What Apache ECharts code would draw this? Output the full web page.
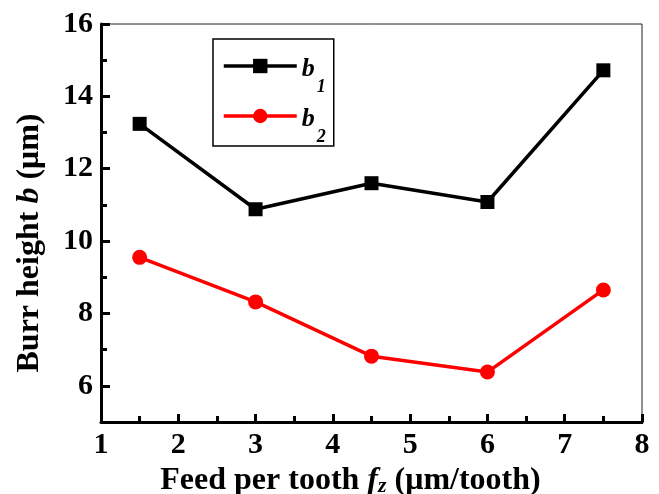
<!DOCTYPE html>
<html>
<head>
<meta charset="utf-8">
<script src="https://cdn.jsdelivr.net/npm/echarts@6/dist/echarts.min.js"></script>
<style>html,body{margin:0;padding:0;background:#fff;}#c{width:659px;height:494px;}</style>
</head>
<body>
<div id="c"></div>
<script>
const xValues = [1.5, 3, 4.5, 6, 7.5];
const b1Values = [13.24, 10.88, 11.6, 11.08, 14.72];
const b2Values = [9.55, 8.32, 6.82, 6.38, 8.65];
const seriesNames = ['b1', 'b2'];

const FONT = '"Liberation Serif", "Times New Roman", serif';
const chart = echarts.init(document.getElementById('c'), null, {renderer: 'canvas'});

function pairs(xs, ys) { return xs.map((x, i) => [x, ys[i]]); }

const tickStyle = {color: '#000', width: 3};
const labelBase = {color: '#000', fontFamily: FONT, fontWeight: 'bold', fontSize: 30};

const option = {
  backgroundColor: '#fff',
  animation: false,
  grid: {left: 101, right: 17, top: 24, bottom: 72, outerBoundsMode: 'none', containLabel: false,
         show: true, borderColor: '#222', borderWidth: 1, backgroundColor: 'transparent'},
  legend: {
    orient: 'vertical', left: 213, top: 39,
    padding: [15, 8, 0, 9], itemGap: 8,
    itemWidth: 73, itemHeight: 18,
    borderColor: '#000', borderWidth: 1.5,
    backgroundColor: '#fff',
    lineStyle: {width: 3.5},
    data: seriesNames,
    formatter: function (name) { return '{i|b}{s|' + name.slice(1) + '}'; },
    textStyle: {
      color: '#000', fontFamily: FONT, fontSize: 24,
      rich: {
        i: {fontFamily: FONT, fontStyle: 'italic', fontWeight: 'bold', fontSize: 26, lineHeight: 24, padding: [2, 0, 0, 0], verticalAlign: 'top', color: '#000'},
        s: {fontFamily: FONT, fontStyle: 'italic', fontWeight: 'bold', fontSize: 18, lineHeight: 16, padding: [24, 0, 0, 2], verticalAlign: 'top', color: '#000'}
      }
    }
  },
  xAxis: {
    type: 'value', min: 1, max: 8, interval: 1,
    name: '{n|Feed per tooth }{i|f}{s|z}{n| (μm/tooth)}',
    nameLocation: 'middle', nameGap: 31,
    nameTextStyle: {
      padding: [0, 42, 0, 0],
      rich: {
        n: {fontFamily: FONT, fontWeight: 'bold', fontSize: 32, lineHeight: 32, color: '#000'},
        i: {fontFamily: FONT, fontWeight: 'bold', fontStyle: 'italic', fontSize: 32, lineHeight: 32, color: '#000'},
        s: {fontFamily: FONT, fontWeight: 'bold', fontStyle: 'italic', fontSize: 22, lineHeight: 10, verticalAlign: 'bottom', color: '#000'}
      }
    },
    axisLine: {show: true, onZero: false, lineStyle: {color: '#000', width: 3}},
    axisTick: {show: true, inside: true, length: 8, lineStyle: tickStyle},
    minorTick: {show: true, splitNumber: 2, length: 6, lineStyle: tickStyle},
    axisLabel: Object.assign({margin: 8}, labelBase),
    splitLine: {show: false}
  },
  yAxis: [
    {
      type: 'value', min: 5, max: 16, interval: 1,
      position: 'left',
      name: '{n|Burr height }{i|b}{n| (μm)}',
      nameLocation: 'middle', nameGap: 55,
      nameTextStyle: {
        padding: [0, 40, 0, 0],
        rich: {
          n: {fontFamily: FONT, fontWeight: 'bold', fontSize: 32, lineHeight: 32, color: '#000'},
          i: {fontFamily: FONT, fontWeight: 'bold', fontStyle: 'italic', fontSize: 32, lineHeight: 32, color: '#000'}
        }
      },
      axisLine: {show: true, onZero: false, lineStyle: {color: '#000', width: 3}},
      axisTick: {show: true, inside: true, length: 6, lineStyle: tickStyle},
      axisLabel: Object.assign({margin: 8, formatter: function (v) { return v % 2 === 0 ? String(v) : ''; }}, labelBase),
      splitLine: {show: false}
    },
    {
      type: 'value', min: 5, max: 16,
      position: 'left',
      axisLine: {show: false},
      axisTick: {show: true, inside: true, length: 9, lineStyle: tickStyle},
      axisLabel: {show: false},
      splitLine: {show: false}
    }
  ],
  series: [
    {
      name: seriesNames[0], type: 'line', yAxisIndex: 0,
      data: pairs(xValues, b1Values),
      symbol: 'rect', symbolSize: 14,
      lineStyle: {color: '#000', width: 3.5},
      itemStyle: {color: '#000'}
    },
    {
      name: seriesNames[1], type: 'line', yAxisIndex: 0,
      data: pairs(xValues, b2Values),
      symbol: 'circle', symbolSize: 15,
      lineStyle: {color: '#ff0000', width: 3.5},
      itemStyle: {color: '#ff0000'}
    }
  ]
};
chart.setOption(option);
</script>
</body>
</html>
